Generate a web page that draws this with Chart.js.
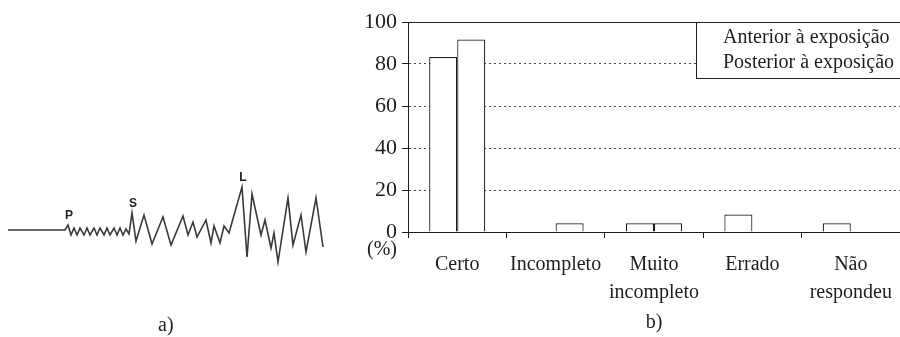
<!DOCTYPE html>
<html>
<head>
<meta charset="utf-8">
<script src="https://cdn.jsdelivr.net/npm/chart.js@4.4.1/dist/chart.umd.min.js"></script>
<style>
  html, body { margin:0; padding:0; background:#fff; }
  body { width:900px; height:337px; overflow:hidden; position:relative; }
  .box { position:absolute; top:0; }
  .cap { position:absolute; font-family:'Liberation Serif','Times New Roman',serif; font-size:20px; color:#1e1e1e; line-height:20px; white-space:nowrap; }
</style>
</head>
<body>
<div class="box" style="left:0;width:340px;height:337px"><canvas id="seis" width="340" height="337"></canvas></div>
<div class="box" style="left:340px;width:560px;height:337px"><canvas id="bars" width="560" height="337"></canvas></div>
<div class="cap" style="left:158px;top:314px">a)</div>
<div class="cap" style="left:367px;top:238px">(%)</div>
<script>
// ---------- panel b) data ----------
const categories = ['Certo', 'Incompleto', ['Muito', 'incompleto'], 'Errado', ['Não', 'respondeu']];
const seriesNames = ['Anterior à exposição', 'Posterior à exposição'];
const anterior  = [83.3, 0, 4.2, 8.3, 4.2];
const posterior = [91.7, 4.2, 4.2, 0, 0];
const yTicks = [0, 20, 40, 60, 80, 100];
const panelB = 'b)';

// ---------- panel a) seismogram trace ----------
const seismoTime = [8, 65, 68, 71, 74, 77, 80, 84, 87, 90, 94, 97, 100, 104, 107, 110, 114, 117, 120, 123, 126, 129,
  132, 136, 144, 152, 163, 171, 183, 188, 193, 197, 206, 211, 214, 220, 224, 229,
  242, 247, 252, 261, 265, 271, 274, 278, 288, 293, 301, 306, 316, 323];
const seismoAmp = [0, 0, 5, -5, 2, -5, 2, -5, 2, -5, 2, -5, 2, -5, 2, -5, 2, -5, 2, -5, 1, -4,
  17, -11, 15, -14, 13, -15, 14, -5, 8, -7, 10, -13, 4, -13, 4, -3,
  43, -27, 36, -5, 10, -18, -3, -32, 32, -15, 15, -22, 32, -17];
const phaseNames = ['P', 'S', 'L'];
const phaseIndex = [2, 22, 38];

const SERIF = "'Liberation Serif', 'Times New Roman', serif";
const INK = '#1e1e1e';
Chart.defaults.font.family = SERIF;
Chart.defaults.color = INK;

// ---------- seismogram ----------
const phasePlugin = {
  id: 'phaseLabels',
  afterDatasetsDraw(chart) {
    const meta = chart.getDatasetMeta(0);
    const ctx = chart.ctx;
    ctx.save();
    ctx.font = "bold 12px 'Liberation Sans', Arial, sans-serif";
    ctx.fillStyle = '#222';
    ctx.textAlign = 'center';
    ctx.textBaseline = 'bottom';
    phaseIndex.forEach((idx, k) => {
      const pt = meta.data[idx];
      ctx.fillText(phaseNames[k], pt.x + 1, pt.y - 3);
    });
    ctx.restore();
  }
};

new Chart(document.getElementById('seis'), {
  type: 'scatter',
  data: {
    datasets: [{
      data: seismoTime.map((t, i) => ({ x: t, y: seismoAmp[i] })),
      showLine: true,
      borderColor: '#3a3a3a',
      borderWidth: 1.6,
      pointRadius: 0,
      tension: 0
    }]
  },
  options: {
    responsive: false,
    animation: false,
    layout: { padding: 0 },
    plugins: { legend: { display: false }, tooltip: { enabled: false } },
    scales: {
      x: { type: 'linear', min: 0, max: 340, display: false },
      y: { type: 'linear', min: -107, max: 230, display: false }
    }
  },
  plugins: [phasePlugin]
});

// ---------- bar chart ----------
const legendBoxPlugin = {
  id: 'legendBox',
  afterDraw(chart) {
    const { ctx, chartArea } = chart;
    const left = chartArea.right - 204;
    const top = chartArea.top;
    const h = 56;
    ctx.save();
    ctx.fillStyle = '#fff';
    ctx.fillRect(left, top, 260, h);
    ctx.strokeStyle = INK;
    ctx.lineWidth = 1;
    ctx.strokeRect(left + 0.5, top + 0.5, 260, h);
    ctx.font = '20px ' + SERIF;
    ctx.fillStyle = INK;
    ctx.textAlign = 'left';
    ctx.textBaseline = 'middle';
    chart.data.datasets.forEach((ds, i) => {
      ctx.fillText(ds.label, left + 27, top + 16 + i * 25);
    });
    ctx.restore();
  }
};

new Chart(document.getElementById('bars'), {
  type: 'bar',
  data: {
    labels: categories,
    datasets: [
      { label: seriesNames[0], data: anterior, backgroundColor: '#fff', borderColor: INK, borderWidth: 1.2 },
      { label: seriesNames[1], data: posterior, backgroundColor: '#fff', borderColor: INK, borderWidth: 1.2 }
    ]
  },
  options: {
    responsive: false,
    animation: false,
    layout: { padding: { top: 22, right: 0, bottom: 0, left: 0 } },
    datasets: { bar: { barPercentage: 1, categoryPercentage: 0.57 } },
    plugins: { legend: { display: false }, tooltip: { enabled: false } },
    scales: {
      x: {
        grid: { drawOnChartArea: false, drawTicks: true, tickLength: 6, color: INK, offset: true },
        border: { display: true, color: INK, width: 1 },
        ticks: { padding: 13, autoSkip: false, maxRotation: 0, color: INK, font: { size: 20, lineHeight: 1.4 } },
        title: { display: true, text: panelB, color: INK, font: { size: 20, lineHeight: 1.2 }, padding: { top: 0, bottom: 2 } },
        afterFit(scale) { scale.height = 105; scale.paddingLeft = 0; scale.paddingRight = 0; }
      },
      y: {
        min: 0, max: 100,
        afterBuildTicks(scale) { scale.ticks = yTicks.map(v => ({ value: v })); },
        grid: {
          color: c => (c.tick && (c.tick.value === 100 || c.tick.value === 0)) ? INK : '#4a4a4a',
          lineWidth: 1,
          tickLength: 6,
          tickColor: INK,
          drawTicks: true
        },
        border: {
          display: true, color: INK, width: 1,
          dash: c => (c.tick && c.tick.value === 100) ? [] : [2, 3]
        },
        ticks: { padding: 5, color: INK, font: { size: 22 } },
        afterFit(scale) { scale.width = 68; }
      }
    }
  },
  plugins: [legendBoxPlugin]
});
</script>
</body>
</html>
